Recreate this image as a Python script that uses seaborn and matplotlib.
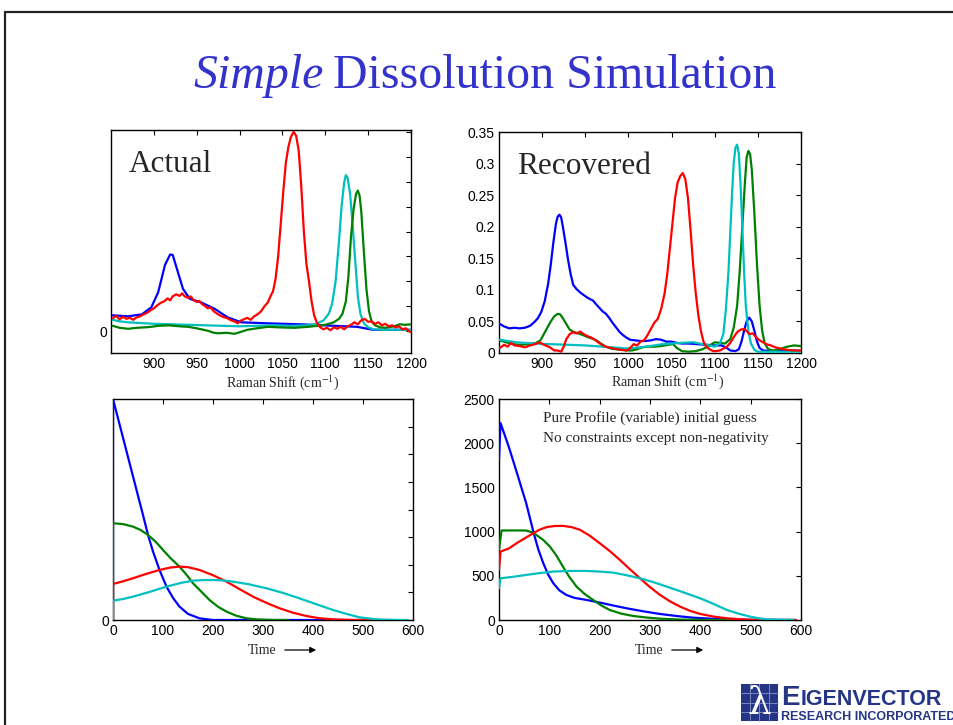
import numpy as np
import pandas as pd
import matplotlib
matplotlib.use("Agg")
import matplotlib.pyplot as plt
import seaborn as sns
from matplotlib.patches import Rectangle, FancyArrowPatch
from matplotlib.lines import Line2D

# ---------------- data ----------------
# Actual pure-component spectra: Raman shift (cm-1) and intensity
act_blue_x = [852, 870, 886, 897, 905, 913, 919, 922, 928, 934, 942, 955, 971, 986, 1002, 1033, 1071, 1110, 1137, 1156, 1200]
act_blue_y = [.032, .030, .034, .048, .078, .133, .154, .153, .119, .085, .065, .058, .045, .028, .018, .016, .014, .011, .009, .003, .003]

act_red_x = [852, 856, 860, 864, 868, 872, 876, 880, 884, 888, 892, 896, 900, 904, 908, 912, 916, 919, 922, 926,
             930, 933, 936, 940, 943, 946, 950, 953, 956, 960, 963, 966, 970, 974, 978, 982, 986, 990, 994, 998,
             1001, 1005, 1009, 1013, 1017, 1021, 1025, 1029, 1033, 1036, 1039, 1042, 1045, 1048, 1051, 1054, 1057,
             1060, 1063, 1066, 1069, 1072, 1075, 1078, 1081, 1084, 1087, 1090, 1094, 1098, 1102, 1106, 1110, 1114,
             1118, 1122, 1126, 1130, 1134, 1138, 1142, 1146, 1150, 1154, 1158, 1162, 1166, 1170, 1174, 1178, 1182,
             1186, 1190, 1194, 1198, 1200]
act_red_y = [.026, .031, .024, .029, .025, .027, .023, .028, .030, .034, .037, .042, .046, .052, .057, .060, .066, .062, .070, .074,
             .071, .076, .070, .067, .070, .063, .059, .061, .055, .050, .046, .048, .040, .035, .031, .028, .026, .022, .020, .016,
             .021, .024, .027, .023, .030, .034, .040, .050, .058, .070, .080, .105, .150, .215, .280, .338, .370,
             .390, .400, .392, .362, .290, .200, .135, .100, .060, .032, .018, .008, .004, .007, .002, .008, .005,
             .009, .004, .010, .013, .018, .014, .022, .025, .019, .020, .015, .018, .012, .015, .010, .012, .008,
             .010, .004, .006, .000, -.002]

act_cyan_x = [852, 860, 870, 880, 900, 920, 940, 960, 980, 1000, 1020, 1040, 1060, 1080, 1090, 1098, 1104, 1108, 1112,
              1116, 1119, 1122, 1124, 1126, 1129, 1132, 1135, 1138, 1141, 1145, 1150, 1156, 1170, 1200]
act_cyan_y = [.023, .020, .018, .017, .015, .014, .013, .012, .011, .010, .011, .012, .011, .012, .015, .022, .035, .055, .100,
              .180, .250, .298, .313, .308, .275, .210, .140, .070, .035, .016, .008, .004, .003, .003]

act_green_x = [852, 860, 870, 880, 890, 897, 905, 917, 930, 940, 950, 958, 963, 970, 975, 985, 994, 1000, 1009, 1020,
               1033, 1045, 1064, 1080, 1091, 1100, 1110, 1116, 1120, 1124, 1127, 1130, 1133, 1136, 1138, 1140, 1142,
               1145, 1148, 1151, 1154, 1158, 1164, 1170, 1180, 1187, 1193, 1200]
act_green_y = [.011, .007, .005, .007, .008, .009, .011, .012, .010, .009, .006, .003, .001, -.003, -.004, -.003, -.005, -.002, .003, .006,
               .009, .008, .007, .009, .011, .013, .018, .025, .035, .060, .110, .190, .245, .276, .282, .272, .240,
               .160, .085, .040, .020, .012, .008, .007, .010, .014, .013, .014]

# Recovered spectra
rec_blue_x = [851, 856, 862, 868, 874, 880, 886, 891, 895, 899, 903, 907, 910, 913, 916, 918, 920, 922, 924, 927, 930, 933,
              936, 940, 944, 948, 952, 956, 959, 962, 966, 970, 974, 978, 982, 986, 990, 994, 998, 1002, 1008, 1014,
              1020, 1026, 1032, 1038, 1044, 1050, 1056, 1062, 1070, 1080, 1090, 1100, 1108, 1114, 1118, 1124, 1128,
              1131, 1134, 1137, 1140, 1143, 1146, 1149, 1152, 1156, 1165, 1180, 1192, 1200]
rec_blue_y = [.046, .042, .039, .040, .039, .040, .043, .049, .055, .065, .082, .110, .140, .175, .205, .216, .219, .215, .200, .175, .148, .125,
              .108, .101, .096, .092, .088, .085, .083, .078, .072, .066, .062, .055, .047, .040, .033, .028, .024, .021, .020, .019,
              .019, .020, .022, .021, .018, .018, .016, .015, .015, .014, .013, .012, .012, .008, .004, .003, .006,
              .018, .035, .050, .056, .050, .035, .018, .008, .004, .003, .004, .004, .003]

rec_green_x = [851, 858, 866, 875, 885, 893, 898, 902, 906, 910, 914, 918, 921, 924, 928, 932, 937, 942, 948, 953, 958, 963,
               968, 974, 980, 986, 992, 998, 1004, 1010, 1016, 1022, 1030, 1038, 1046, 1052, 1056, 1062, 1070, 1078, 1086,
               1094, 1100, 1106, 1112, 1118, 1122, 1126, 1129, 1132, 1135, 1137, 1139, 1141, 1143, 1146, 1149, 1152,
               1155, 1158, 1162, 1168, 1175, 1184, 1192, 1200]
rec_green_y = [.020, .017, .014, .013, .014, .016, .020, .030, .040, .050, .058, .062, .061, .055, .046, .037, .033, .031, .028, .025, .023, .020,
               .015, .010, .007, .006, .005, .004, .004, .006, .009, .010, .010, .011, .013, .014, .008, .003, .002, .003, .006,
               .012, .017, .016, .015, .022, .040, .075, .130, .200, .270, .310, .320, .315, .290, .220, .140, .075,
               .035, .015, .006, .004, .006, .010, .012, .011]

rec_cyan_x = [851, 870, 890, 910, 930, 950, 970, 990, 1000, 1020, 1040, 1060, 1075, 1090, 1100, 1106, 1110, 1113, 1116,
              1118, 1120, 1122, 1124, 1126, 1128, 1130, 1132, 1134, 1136, 1139, 1142, 1146, 1150, 1170, 1200]
rec_cyan_y = [.021, .017, .015, .014, .013, .012, .010, .008, .007, .010, .014, .016, .017, .013, .010, .015, .030, .070, .130,
              .190, .250, .300, .325, .330, .315, .265, .200, .130, .075, .035, .015, .005, .002, .002, .002]

rec_red_x = [851, 856, 860, 864, 868, 874, 880, 886, 892, 897, 902, 906, 910, 914, 918, 922, 925, 928, 932, 936, 940, 944,
             948, 952, 956, 960, 964, 968, 972, 976, 980, 986, 992, 998, 1002, 1006, 1010, 1014, 1018, 1022, 1026, 1030,
             1034, 1038, 1042, 1045, 1048, 1051, 1054, 1057, 1060, 1063, 1066, 1069, 1072, 1075, 1078, 1081, 1084, 1087,
             1090, 1094, 1098, 1102, 1106, 1110, 1114, 1118, 1122, 1126, 1130, 1134, 1137, 1140, 1144, 1148, 1152, 1156,
             1160, 1165, 1170, 1176, 1184, 1192, 1200]
rec_red_y = [.008, .013, .010, .016, .012, .011, .009, .012, .014, .017, .013, .011, .008, .004, .004, .002, .010, .022, .030, .033, .031, .034,
             .030, .027, .025, .022, .018, .014, .011, .009, .008, .006, .005, .004, .008, .014, .012, .018, .020, .028, .038, .048,
             .054, .070, .095, .125, .165, .205, .245, .270, .280, .285, .275, .245, .195, .140, .095, .060, .035, .018,
             .010, .006, .003, .003, .004, .007, .010, .016, .025, .033, .037, .038, .035, .030, .031, .025, .020, .017,
             .014, .012, .009, .007, .005, .004, .004]

# Actual concentration profiles over time
act_t_blue = [0, 0, 20, 40, 60, 70, 80, 93, 107, 120, 133, 150, 173, 200, 230, 530]
act_c_blue = [0, 2000, 1650, 1300, 950, 770, 620, 453, 302, 200, 121, 55, 15, 0, 0, 0]
act_t_green = [0, 0, 20, 40, 55, 70, 85, 100, 115, 133, 147, 160, 177, 193, 210, 227, 247, 267, 290, 320, 350]
act_c_green = [0, 876, 868, 845, 815, 770, 710, 634, 560, 483, 410, 332, 255, 181, 120, 76, 38, 15, 5, 0, 0]
act_t_red = [0, 0, 20, 40, 65, 93, 115, 133, 150, 173, 200, 227, 253, 280, 307, 333, 360, 387, 413, 440, 480, 555]
act_c_red = [0, 326, 350, 378, 415, 453, 475, 483, 478, 453, 405, 347, 280, 211, 155, 106, 66, 36, 16, 6, 0, 0]
act_t_cyan = [0, 0, 20, 40, 70, 107, 135, 160, 180, 200, 220, 240, 270, 307, 340, 373, 407, 440, 467, 493, 520, 540, 573, 590]
act_c_cyan = [0, 175, 190, 211, 250, 302, 335, 356, 361, 362, 358, 347, 325, 287, 245, 196, 142, 91, 55, 24, 10, 3, 0, 0]

# Recovered concentration profiles
rec_t_blue = [0, 3, 20, 38, 54, 69, 78, 88, 98, 108, 120, 134, 150, 174, 207, 230, 254, 287, 320, 353, 386, 420, 453, 500, 590]
rec_c_blue = [1813, 2228, 1950, 1620, 1322, 982, 800, 642, 510, 415, 335, 283, 250, 227, 189, 160, 132, 98, 68, 45, 26, 15, 8, 2, 0]
rec_t_green = [0, 5, 20, 40, 54, 64, 74, 88, 101, 114, 127, 140, 154, 170, 187, 203, 220, 243, 267, 293, 320, 360, 420, 590]
rec_c_green = [793, 1012, 1013, 1013, 1012, 995, 963, 905, 831, 730, 604, 485, 378, 295, 227, 165, 113, 72, 45, 28, 15, 5, 0, 0]
rec_t_red = [0, 3, 20, 35, 50, 68, 80, 94, 110, 127, 145, 161, 180, 200, 220, 240, 260, 280, 300, 320, 340, 360, 380, 400,
             427, 453, 480, 506, 590]
rec_c_red = [566, 774, 810, 869, 920, 982, 1020, 1050, 1063, 1065, 1050, 1020, 955, 869, 780, 680, 575, 472, 372, 283, 210,
             151, 103, 68, 38, 19, 8, 0, 0]
rec_t_cyan = [0, 3, 30, 54, 80, 108, 140, 174, 200, 227, 253, 280, 307, 333, 367, 400, 427, 453, 476, 499, 515, 532, 560, 585]
rec_c_cyan = [359, 472, 490, 510, 530, 548, 555, 555, 548, 536, 507, 472, 428, 378, 312, 245, 180, 113, 72, 38, 20, 8, 2, 0]

raman_ticks = [900, 950, 1000, 1050, 1100, 1150, 1200]
rec_spec_ticks = [0, 0.05, 0.1, 0.15, 0.2, 0.25, 0.3, 0.35]
rec_spec_labels = ["0", "0.05", "0.1", "0.15", "0.2", "0.25", "0.3", "0.35"]
time_ticks = [0, 100, 200, 300, 400, 500, 600]
rec_conc_ticks = [0, 500, 1000, 1500, 2000, 2500]

BLUE, GREEN, RED, CYAN = "#0000FF", "#008000", "#FF0000", "#00BFBF"

# ---------------- style ----------------
sns.set_style("white")
plt.rcParams.update({
    "font.family": ["Liberation Sans", "DejaVu Sans"],
    "xtick.direction": "in", "ytick.direction": "in",
    "xtick.top": True, "ytick.right": True,
    "xtick.major.size": 3.5, "ytick.major.size": 3.5,
    "xtick.major.width": 0.8, "ytick.major.width": 0.8,
    "xtick.labelsize": 10, "ytick.labelsize": 10,
    "xtick.color": "black", "ytick.color": "black",
    "axes.edgecolor": "black", "axes.linewidth": 1.0,
    "mathtext.fontset": "stix",
})
SERIF = ["Liberation Serif", "DejaVu Serif"]

W, H = 954, 725
fig = plt.figure(figsize=(W / 100, H / 100), dpi=100)
fig.patch.set_facecolor("white")


def px_axes(left, top, right, bottom):
    return fig.add_axes([left / W, 1 - bottom / H, (right - left) / W, (bottom - top) / H])


def fx(px):
    return px / W


def fy(py):
    return 1 - py / H


def draw(ax, x, y, color):
    df = pd.DataFrame({"x": x, "y": y})
    sns.lineplot(data=df, x="x", y="y", ax=ax, color=color, linewidth=1.6,
                 sort=False, estimator=None, zorder=3)


ax_tl = px_axes(111, 130, 411, 353)
ax_tr = px_axes(499, 132, 801, 353)
ax_bl = px_axes(113, 399, 413, 620)
ax_br = px_axes(499, 399, 801, 620)

# Actual spectra
for x, y, c in [(act_blue_x, act_blue_y, BLUE), (act_cyan_x, act_cyan_y, CYAN),
                (act_green_x, act_green_y, GREEN), (act_red_x, act_red_y, RED)]:
    draw(ax_tl, x, y, c)
ax_tl.set_xlim(850, 1200)
ax_tl.set_ylim(-0.0435, 0.4035)
ax_tl.set_xticks(raman_ticks)
ax_tl.set_yticks(np.arange(0, 0.401, 0.05))
ax_tl.set_yticklabels(["0"] + [""] * 8)
ax_tl.text(0.06, 0.81, "Actual", transform=ax_tl.transAxes, family=SERIF, fontsize=22.5)

# Recovered spectra
for x, y, c in [(rec_blue_x, rec_blue_y, BLUE), (rec_green_x, rec_green_y, GREEN),
                (rec_cyan_x, rec_cyan_y, CYAN), (rec_red_x, rec_red_y, RED)]:
    draw(ax_tr, x, y, c)
ax_tr.set_xlim(850, 1200)
ax_tr.set_ylim(0, 0.35)
ax_tr.set_xticks(raman_ticks)
ax_tr.set_yticks(rec_spec_ticks)
ax_tr.set_yticklabels(rec_spec_labels)
ax_tr.text(0.06, 0.81, "Recovered", transform=ax_tr.transAxes, family=SERIF, fontsize=22.5)

# Actual concentrations
for x, y, c in [(act_t_blue, act_c_blue, BLUE), (act_t_green, act_c_green, GREEN),
                (act_t_red, act_c_red, RED), (act_t_cyan, act_c_cyan, CYAN)]:
    draw(ax_bl, x, y, c)
ax_bl.set_xlim(0, 600)
ax_bl.set_ylim(0, 2000)
ax_bl.set_xticks(time_ticks)
ax_bl.set_yticks(np.arange(0, 2001, 250))
ax_bl.set_yticklabels(["0"] + [""] * 8)

# Recovered concentrations
for x, y, c in [(rec_t_blue, rec_c_blue, BLUE), (rec_t_green, rec_c_green, GREEN),
                (rec_t_red, rec_c_red, RED), (rec_t_cyan, rec_c_cyan, CYAN)]:
    draw(ax_br, x, y, c)
ax_br.set_xlim(0, 600)
ax_br.set_ylim(0, 2500)
ax_br.set_xticks(time_ticks)
ax_br.set_yticks(rec_conc_ticks)
ax_br.text(0.145, 0.895, "Pure Profile (variable) initial guess", transform=ax_br.transAxes,
           family=SERIF, fontsize=11)
ax_br.text(0.145, 0.805, "No constraints except non-negativity", transform=ax_br.transAxes,
           family=SERIF, fontsize=11)

for ax in (ax_tl, ax_tr, ax_bl, ax_br):
    ax.set_xlabel("")
    ax.set_ylabel("")
    ax.tick_params(pad=3)
    for s in ax.spines.values():
        s.set_visible(True)
        s.set_zorder(2.5)

# axis captions
fig.text(fx(283), fy(383), "Raman Shift (cm$^{-1}$)", family=SERIF, fontsize=10, ha="center", va="center")
fig.text(fx(668), fy(382), "Raman Shift (cm$^{-1}$)", family=SERIF, fontsize=10, ha="center", va="center")
for x0 in (248, 635):
    fig.text(fx(x0), fy(650), "Time", family=SERIF, fontsize=10, ha="left", va="center")
    fig.add_artist(FancyArrowPatch((fx(x0 + 34), fy(650)), (fx(x0 + 71), fy(650)),
                                   transform=fig.transFigure, arrowstyle="-|>", mutation_scale=9,
                                   color="black", linewidth=0.9))

# title
fig.canvas.draw()
renderer = fig.canvas.get_renderer()
t1 = fig.text(fx(193), fy(88), "Simple", family=SERIF, style="italic", fontsize=34.5,
              color="#3333CC", ha="left", va="baseline")
bb = t1.get_window_extent(renderer=renderer)
fig.text(bb.x1 / W + fx(10), fy(88), "Dissolution Simulation", family=SERIF, fontsize=34.5,
         color="#3333CC", ha="left", va="baseline")

# slide frame
fig.add_artist(Line2D([fx(5), 1], [fy(12), fy(12)], transform=fig.transFigure, color="#222222", lw=1.6))
fig.add_artist(Line2D([fx(5), fx(5)], [0, fy(12)], transform=fig.transFigure, color="#222222", lw=1.6))

# company mark: gridded lambda badge plus name
NAVY = "#233584"
bx0, by0, bs = 741, 684, 37
fig.add_artist(Rectangle((fx(bx0), fy(by0 + bs)), bs / W, bs / H, transform=fig.transFigure,
                         facecolor=NAVY, edgecolor="none"))
for k in range(1, 4):
    fig.add_artist(Line2D([fx(bx0 + k * bs / 4)] * 2, [fy(by0 + bs), fy(by0)], transform=fig.transFigure,
                          color="#8A93C8", lw=0.6))
    fig.add_artist(Line2D([fx(bx0), fx(bx0 + bs)], [fy(by0 + k * bs / 4)] * 2, transform=fig.transFigure,
                          color="#8A93C8", lw=0.6))
fig.text(fx(bx0 + bs / 2), fy(by0 + bs / 2 + 1), "λ", color="white", fontsize=27,
         ha="center", va="center", family=["DejaVu Serif"])
e_big = fig.text(fx(781), fy(705), "E", color=NAVY, fontsize=20, fontweight="bold",
                 ha="left", va="baseline", family=["Liberation Sans"])
eb = e_big.get_window_extent(renderer=renderer)
fig.text(eb.x1 / W + fx(1), fy(705), "IGENVECTOR", color=NAVY, fontsize=15.5, fontweight="bold",
         ha="left", va="baseline", family=["Liberation Sans"])
fig.text(fx(781), fy(720), "RESEARCH INCORPORATED", color=NAVY, fontsize=9, fontweight="bold",
         ha="left", va="baseline", family=["Liberation Sans"])

fig.savefig("out.png", dpi=100, facecolor="white")
